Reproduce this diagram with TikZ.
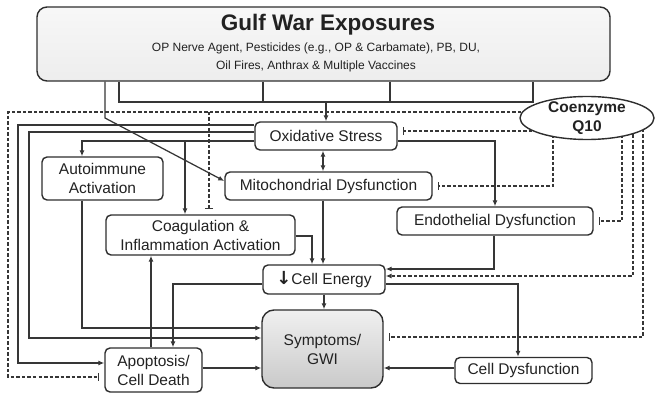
\documentclass[tikz,border=0pt]{standalone}
\usepackage{fontspec}
\setmainfont{Liberation Sans}
\newfontfamily\dejavu{DejaVu Sans}
\usetikzlibrary{arrows.meta,shapes.geometric,backgrounds}
\definecolor{linec}{HTML}{363636}
\definecolor{boxc}{HTML}{2E2E2E}
\definecolor{textc}{HTML}{222222}
\tikzset{
  box/.style={draw=boxc, line width=1.4pt, rounded corners=5pt, fill=white, inner sep=0pt,
    align=center, text=textc, font=\fontsize{15.5}{19}\selectfont},
  ln/.style={draw=linec, line width=1.25pt},
  arr/.style={ln, -{Latex[length=6pt,width=5pt]}},
  arrb/.style={ln, {Latex[length=6pt,width=5pt]}-{Latex[length=6pt,width=5pt]}},
  dsh/.style={draw=linec, line width=1.15pt, dash pattern=on 3.5pt off 2pt},
  inh/.style={dsh, -{Bar[width=8pt,line width=1.15pt]}, shorten >=5pt},
  darr/.style={dsh, -{Latex[length=6pt,width=5pt]}},
}
\begin{document}
\begin{tikzpicture}[x=1pt,y=-1pt]
\useasboundingbox (0,0) rectangle (656,395);

% exposures box
\node[box, rounded corners=10pt, minimum width=573pt, minimum height=74pt,
      top color=gray!6, bottom color=gray!14] (gw) at (323.5,44) {};
\node[text=textc, font=\fontsize{22.5}{26}\selectfont\bfseries] (gwt) at (328,25) {Gulf War Exposures};
\node[text=textc, align=center, font=\fontsize{12}{18}\selectfont] (gws) at (316,57)
  {OP Nerve Agent, Pesticides (e.g., OP \& Carbamate), PB, DU,\\Oil Fires, Anthrax \& Multiple Vaccines};

% boxes
\node[box, minimum width=142pt, minimum height=28pt] (os) at (326,136) {Oxidative Stress};
\node[box, minimum width=207pt, minimum height=28pt] (mito) at (328.5,186) {Mitochondrial Dysfunction};
\node[box, minimum width=121pt, minimum height=43pt] (auto) at (102.5,178.5) {Autoimmune\\Activation};
\node[box, minimum width=189pt, minimum height=40pt] (coag) at (200.5,235) {Coagulation \&\\Inflammation Activation};
\node[box, minimum width=196pt, minimum height=28pt] (endo) at (495,221) {Endothelial Dysfunction};
\node[box, minimum width=122pt, minimum height=29pt] (ce) at (324,279.5) {{\dejavu\bfseries\fontsize{18}{19}\selectfont ↓}Cell Energy};
\node[box, rounded corners=12pt, minimum width=121pt, minimum height=78pt,
      top color=gray!12, bottom color=gray!42] (sym) at (322.5,349) {Symptoms/\\GWI};
\node[box, minimum width=97pt, minimum height=44pt] (apo) at (153.5,370) {Apoptosis/\\Cell Death};
\node[box, minimum width=137pt, minimum height=26pt] (cd) at (523.5,370.5) {Cell Dysfunction};

% coenzyme Q10
\node[ellipse, draw=boxc, line width=1.4pt, fill=white, minimum width=134pt, minimum height=43pt,
      inner sep=0pt] (q10) at (587,118) {};
\node[text=textc, align=center, font=\fontsize{15.5}{19}\selectfont\bfseries] (q10t) at (q10) {Coenzyme\\Q10};

\begin{pgfonlayer}{background}
% bracket under exposures
\coordinate (b1) at (119,102);
\coordinate (b2) at (263,102);
\coordinate (b3) at (390,102);
\coordinate (b4) at (533,102);
\draw[ln] (gw.south -| b1) -- (b1) -- (b4) -- (gw.south -| b4);
\draw[ln] (gw.south -| b2) -- (b2);
\draw[ln] (gw.south -| b3) -- (b3);
\draw[arr] (os.north |- b1) -- (os.north);
% exposures -> mitochondria
\coordinate (d1) at (105,118);
\draw[arr] (gw.south -| d1) -- (d1) -- ([yshift=5pt]mito.west);

% oxidative stress outputs
\draw[arr] ([yshift=11pt]os.west) -- (18,125) -- (18,363) -- ([yshift=7pt]apo.west);
\draw[arr] ([yshift=4pt]os.west) -- (29,132) -- (29,338) -- ([yshift=11pt]sym.west);
\draw[arr] ([yshift=-5pt]os.west) -- (82,141) -- ([xshift=-20.5pt]auto.north);
\coordinate (j1) at (185,141);
\draw[arr] (j1) -- ([xshift=-15.5pt]coag.north);
\draw[arr] ([yshift=-5pt]os.east) -| (endo.north);
\draw[arrb] ([xshift=-3pt]os.south) -- ([xshift=-5.5pt]mito.north);

% into cell energy
\draw[arr] ([xshift=-5.5pt]mito.south) -- ([xshift=-1pt]ce.north);
\draw[arr] ([yshift=-1pt]coag.east) -- (312,236) -- ([xshift=-12pt]ce.north);
\draw[arr] ([xshift=-1pt]endo.south) -- (494,269) -- ([yshift=10.5pt]ce.east);

% from cell energy
\draw[arr] ([yshift=-4.5pt]ce.west) -- (173,284) -- ([xshift=19.5pt]apo.north);
\draw[arr] ([yshift=-4.5pt]ce.east) -- (518,284) -- ([xshift=-5.5pt]cd.north);
\draw[arr] (ce.south) -- (ce.south |- sym.north);

% into symptoms
\draw[arr] ([yshift=2.5pt]cd.west) -- ([yshift=-19pt]sym.east);
\draw[arr] ([xshift=-20.5pt]auto.south) -- (82,328) -- ([yshift=21pt]sym.west);
\draw[arr] ([yshift=2pt]apo.east) -- ([yshift=-19pt]sym.west);
\draw[arr] ([xshift=-2.5pt]apo.north) -- ([xshift=-49.5pt]coag.south);

% coenzyme Q10 effects
\draw[inh] ([yshift=6pt]q10.center) -- (8,112) -- (8,377) -- ([yshift=-7pt]apo.west);
\coordinate (j2) at (209,112);
\draw[inh] (j2) -- ([xshift=8.5pt]coag.north);
\draw[inh] ([yshift=-13pt]q10.center) -- ([yshift=5pt]os.east);
\draw[inh] ([xshift=-34pt]q10.center) -- (553,186) -- (mito.east);
\draw[inh] ([xshift=35pt]q10.center) -- (622,221) -- (endo.east);
\draw[darr] ([xshift=46pt]q10.center) -- (633,276) -- ([yshift=3.5pt]ce.east);
\draw[inh] ([xshift=56pt]q10.center) -- (643,337) -- ([yshift=12pt]sym.east);
\end{pgfonlayer}
\end{tikzpicture}
\end{document}
